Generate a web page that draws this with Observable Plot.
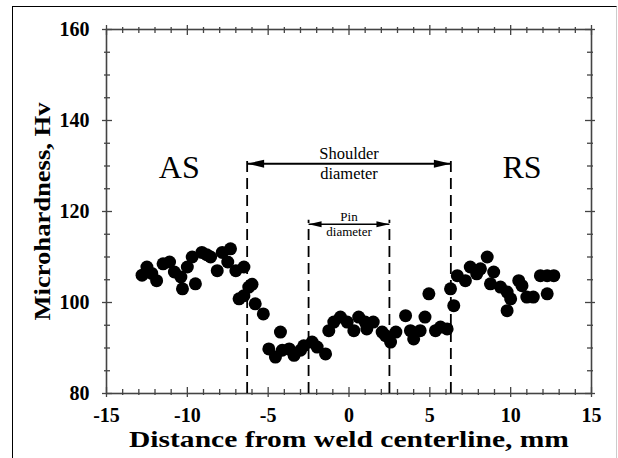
<!DOCTYPE html>
<html>
<head>
<meta charset="utf-8">
<script src="https://cdn.jsdelivr.net/npm/d3@7"></script>
<script src="https://cdn.jsdelivr.net/npm/@observablehq/plot@0.6"></script>
<style>
  html, body { margin: 0; padding: 0; background: #fff; }
  #wrap { position: relative; width: 618px; height: 458px; overflow: hidden; }
  #border { position: absolute; left: 12px; top: 6px; width: 603px; height: 520px;
            border-left: 1.6px solid #000; border-top: 1.6px solid #000; border-right: 1px solid #ccc; }
  #chart { position: absolute; left: 0; top: 0; }
</style>
</head>
<body>
<div id="wrap"><div id="border"></div><div id="chart"></div></div>
<script>
// Distance from weld centerline (mm) and microhardness (Hv)
const distance = [
  -12.8, -12.5, -12.2, -11.9, -11.5, -11.1, -10.8, -10.4, -10.3, -10.0,
  -9.7, -9.5, -9.1, -8.8, -8.56, -8.15, -7.84, -7.5, -7.33, -7.0,
  -6.8, -6.5, -6.5, -6.2, -6.0, -5.8, -5.3,
  -4.96, -4.55, -4.24, -4.13, -3.7, -3.4, -3.0, -2.8, -2.28, -1.97,
  -1.45, -1.25, -0.94, -0.53, -0.11, 0.3, 0.6, 1.0, 1.1, 1.5,
  2.05, 2.26, 2.57, 2.9, 3.5, 3.8, 4.0, 4.4, 4.7, 4.94,
  5.35, 5.66, 6.07,
  6.28, 6.48, 6.7, 7.2, 7.5, 7.9, 8.13, 8.55, 8.75, 8.95,
  9.37, 9.78, 9.78, 10.0, 10.5, 10.7, 11.0, 11.4, 11.84, 12.26, 12.26, 12.67
];
const hardness = [
  106, 107.8, 106.4, 104.8, 108.5, 108.9, 106.7, 105.6, 103, 107.8,
  110, 104.1, 111, 110.5, 110, 107, 111, 108.9, 111.8, 107,
  100.8, 107.8, 101.5, 103.4, 104, 99.7, 97.5,
  89.8, 88, 93.5, 89.5, 89.8, 88.4, 89.5, 90.5, 91.3, 90.2,
  88.7, 93.8, 95.7, 96.8, 95.7, 93.8, 96.8, 95.7, 94.2, 95.7,
  93.5, 92.7, 91.3, 93.5, 97.1, 93.8, 92, 93.8, 96.8, 101.9,
  93.8, 94.6, 94.2,
  103, 99.3, 105.9, 104.8, 107.8, 106.3, 107.4, 110, 104.1, 106.7,
  103.4, 102.3, 98.2, 100.8, 104.8, 103.7, 101.2, 101.2, 105.9, 105.9, 101.9, 105.9
];

// Axis ticks
const xMajor = [-15, -10, -5, 0, 5, 10, 15];
const xLabels = ["-15", "-10", "-5", "0", "5", "10", "15"];
const xMinor = d3.range(-15, 15.01, 1).filter(v => v % 5 !== 0);
const yMajor = [80, 100, 120, 140, 160];
const yLabels = ["80", "100", "120", "140", "160"];
const yMinor = d3.range(80, 160.01, 5).filter(v => v % 20 !== 0);
const xTitle = "Distance from weld centerline, mm";
const yTitle = "Microhardness, Hv";

// Tool boundaries (mm) and annotation heights (Hv)
const shoulderEdges = [-6.3, 6.3];
const pinEdges = [-2.5, 2.5];
const shoulderLineTop = 132.3;
const pinLineTop = 118.1;
const shoulderArrowY = 130.5;
const pinArrowY = 117.2;
const sideLabels = [{t: "AS", x: -10.5, y: 129.6}, {t: "RS", x: 10.7, y: 129.6}];
const shoulderText = [{t: "Shoulder", y: 132.8}, {t: "diameter", y: 128.2}];
const pinText = [{t: "Pin", y: 118.9}, {t: "diameter", y: 115.6}];

const data = distance.map((d, i) => ({x: d, y: hardness[i]}));

const W = 618, H = 458, mT = 29, mB = 65, mL = 106, mR = 27;
const plotH = H - mT - mB, plotW = W - mL - mR;
const frameColor = "#444";

function head(L, w) {
  return { draw(ctx) { ctx.moveTo(0, 0); ctx.lineTo(-L, -w); ctx.lineTo(-L, w); ctx.closePath(); } };
}

function xTicks(values, inward, outward) {
  return [
    Plot.tickX(values, {x: d => d, insetTop: plotH - inward, insetBottom: -outward, stroke: frameColor, strokeWidth: 1.3}),
    Plot.tickX(values, {x: d => d, insetTop: -outward, insetBottom: plotH - inward, stroke: frameColor, strokeWidth: 1.3})
  ];
}
function yTicks(values, inward, outward) {
  return [
    Plot.tickY(values, {y: d => d, insetLeft: -outward, insetRight: plotW - inward, stroke: frameColor, strokeWidth: 1.3}),
    Plot.tickY(values, {y: d => d, insetLeft: plotW - inward, insetRight: -outward, stroke: frameColor, strokeWidth: 1.3})
  ];
}

const serif = "'Liberation Serif', 'Times New Roman', serif";

const chart = Plot.plot({
  width: W, height: H,
  marginTop: mT, marginBottom: mB, marginLeft: mL, marginRight: mR,
  style: {fontFamily: serif, background: "transparent", color: "#000"},
  x: {domain: [-15, 15], axis: null},
  y: {domain: [80, 160], axis: null},
  marks: [
    Plot.frame({stroke: frameColor, strokeWidth: 1.6}),
    ...xTicks(xMajor, 6, 4),
    ...xTicks(xMinor, 4, 2),
    ...yTicks(yMajor, 6, 4),
    ...yTicks(yMinor, 4, 2),
    Plot.text(xMajor, {x: d => d, text: (d, i) => xLabels[i], frameAnchor: "bottom", dy: 28, fontSize: 20, fontWeight: "bold", fill: "#000"}),
    Plot.text(yMajor, {y: d => d, text: (d, i) => yLabels[i], frameAnchor: "left", dx: -17, textAnchor: "end", fontSize: 20, fontWeight: "bold", fill: "#000"}),
    Plot.text([xTitle], {frameAnchor: "bottom", dy: 53, fontSize: 23, fontWeight: "bold", fill: "#000"}),
    Plot.text([yTitle], {frameAnchor: "left", dx: -64, textAnchor: "middle", rotate: -90, fontSize: 24, fontWeight: "bold", fill: "#000"}),
    // dashed tool boundary lines
    Plot.ruleX(shoulderEdges, {x: d => d, y1: 80, y2: shoulderLineTop, stroke: "#000", strokeWidth: 1.8, strokeDasharray: "11,6"}),
    Plot.ruleX(pinEdges, {x: d => d, y1: 80, y2: pinLineTop, stroke: "#000", strokeWidth: 1.8, strokeDasharray: "11,6"}),
    // double arrows
    Plot.link([shoulderEdges], {x1: d => d[0], x2: d => d[1], y1: shoulderArrowY, y2: shoulderArrowY, stroke: "#000", strokeWidth: 1.8}),
    Plot.dot(shoulderEdges, {x: d => d, y: shoulderArrowY, symbol: head(17, 4), fill: "#000", stroke: "none", rotate: d => d > 0 ? 0 : 180}),
    Plot.link([pinEdges], {x1: d => d[0], x2: d => d[1], y1: pinArrowY, y2: pinArrowY, stroke: "#000", strokeWidth: 1.5}),
    Plot.dot(pinEdges, {x: d => d, y: pinArrowY, symbol: head(13, 3), fill: "#000", stroke: "none", rotate: d => d > 0 ? 0 : 180}),
    Plot.text(shoulderText, {x: 0, y: "y", text: "t", fontSize: 16.5, fill: "#000"}),
    Plot.text(pinText, {x: 0, y: "y", text: "t", fontSize: 13, fill: "#000"}),
    Plot.text(sideLabels, {x: "x", y: "y", text: "t", fontSize: 32, fill: "#000"}),
    // data
    Plot.dot(data, {x: "x", y: "y", r: 6.5, fill: "#000", stroke: "none"})
  ]
});
// stretch the axis titles to the reference's wider lettering
d3.select(chart).selectAll("text").each(function() {
  const s = this.textContent;
  if (s === xTitle) { this.setAttribute("textLength", 440); this.setAttribute("lengthAdjust", "spacingAndGlyphs"); }
  if (s === yTitle) { this.setAttribute("textLength", 218); this.setAttribute("lengthAdjust", "spacingAndGlyphs"); }
});
document.getElementById("chart").appendChild(chart);
</script>
</body>
</html>
